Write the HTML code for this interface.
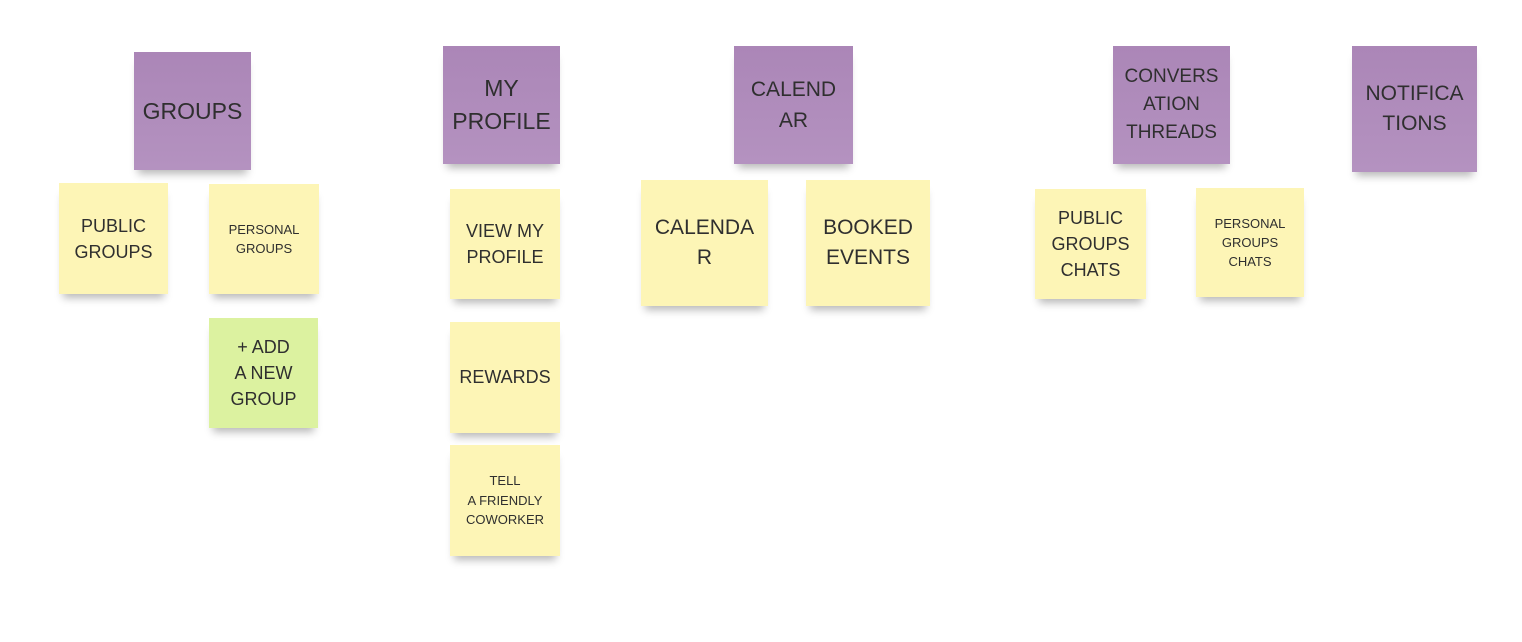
<!DOCTYPE html>
<html><head><style>
body{margin:0;width:1522px;height:642px;background:#fff;position:relative;overflow:hidden;font-family:"Liberation Sans","DejaVu Sans",sans-serif;}
.n{position:absolute;display:flex;align-items:center;justify-content:center;text-align:center;color:#2f2f2f;box-shadow:0 8px 8px -4px rgba(0,0,0,0.28);}
.p{background:linear-gradient(180deg,#ab86b7,#b492c0);}
.y{background:#fdf5b6;}
.g{background:#dcf2a0;}
</style></head><body>
<div class="n p" style="left:134px;top:52px;width:117px;height:118px;font-size:23px;">GROUPS</div>
<div class="n p" style="left:443px;top:46px;width:117px;height:118px;font-size:23px;line-height:33px;">MY<br>PROFILE</div>
<div class="n p" style="left:734px;top:46px;width:119px;height:118px;font-size:21px;line-height:31px;">CALEND<br>AR</div>
<div class="n p" style="left:1113px;top:46px;width:117px;height:118px;font-size:19px;line-height:28px;">CONVERS<br>ATION<br>THREADS</div>
<div class="n p" style="left:1352px;top:46px;width:125px;height:126px;font-size:21px;line-height:30px;">NOTIFICA<br>TIONS</div>

<div class="n y" style="left:59px;top:183px;width:109px;height:111px;font-size:18px;line-height:26px;">PUBLIC<br>GROUPS</div>
<div class="n y" style="left:209px;top:184px;width:110px;height:110px;font-size:13px;line-height:19px;">PERSONAL<br>GROUPS</div>
<div class="n g" style="left:209px;top:318px;width:109px;height:110px;font-size:18px;line-height:26px;">+ ADD<br>A NEW<br>GROUP</div>

<div class="n y" style="left:450px;top:189px;width:110px;height:110px;font-size:18px;line-height:26px;">VIEW MY<br>PROFILE</div>
<div class="n y" style="left:450px;top:322px;width:110px;height:111px;font-size:18px;">REWARDS</div>
<div class="n y" style="left:450px;top:445px;width:110px;height:111px;font-size:13px;line-height:19.5px;">TELL<br>A FRIENDLY<br>COWORKER</div>

<div class="n y" style="left:641px;top:180px;width:127px;height:126px;font-size:21px;line-height:30px;">CALENDA<br>R</div>
<div class="n y" style="left:806px;top:180px;width:124px;height:126px;font-size:21px;line-height:30px;">BOOKED<br>EVENTS</div>

<div class="n y" style="left:1035px;top:189px;width:111px;height:110px;font-size:18px;line-height:26px;">PUBLIC<br>GROUPS<br>CHATS</div>
<div class="n y" style="left:1196px;top:188px;width:108px;height:109px;font-size:13px;line-height:19px;">PERSONAL<br>GROUPS<br>CHATS</div>
</body></html>
